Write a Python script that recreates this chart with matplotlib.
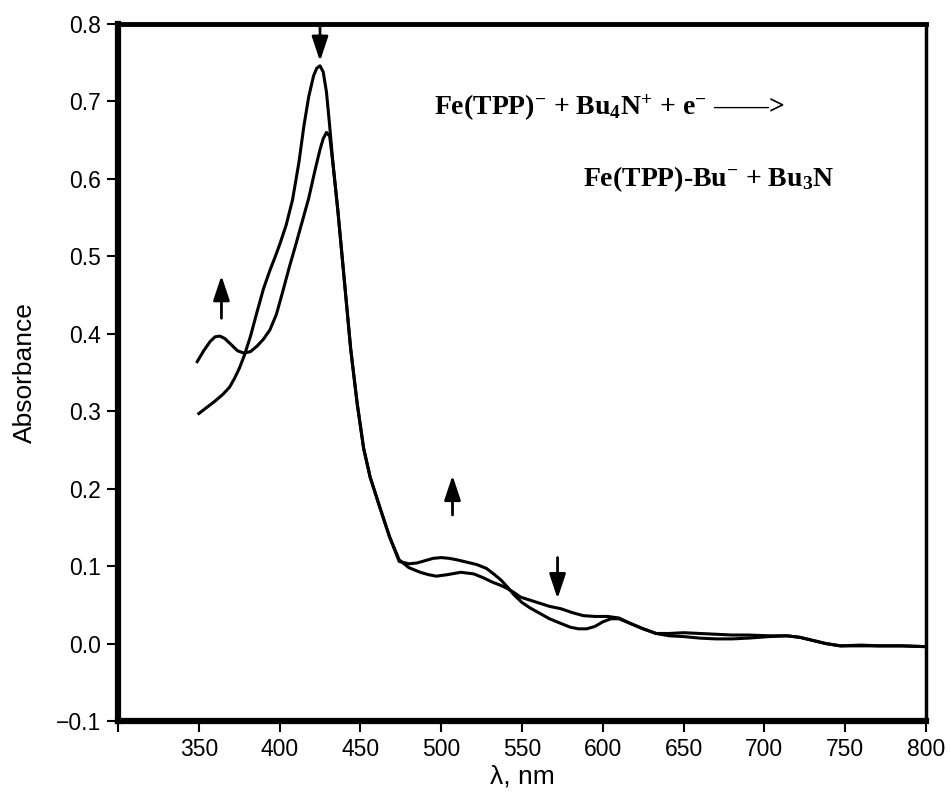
import numpy as np
import matplotlib.pyplot as plt

plt.rcParams['mathtext.fontset'] = 'custom'
plt.rcParams['mathtext.rm'] = 'Liberation Serif:bold'
plt.rcParams['mathtext.it'] = 'Liberation Serif:bold'
plt.rcParams['mathtext.bf'] = 'Liberation Serif:bold'

# spectrum before electrolysis (strong Soret band)
wl_before = [350, 355, 360, 365, 369, 372, 375, 378, 382, 386,
             390, 394, 397, 400, 404, 408, 412, 415, 418, 421,
             423, 425, 427, 429, 431, 433, 436, 440, 444, 448,
             452, 456, 462, 468, 474, 480, 487, 492, 497, 504,
             512, 520, 526, 532, 537, 541, 545, 549, 555, 561,
             567, 574, 581, 588, 595, 603, 610, 617, 625, 633,
             641, 650, 660, 670, 680, 690, 703, 714, 722, 730,
             738, 747, 760, 771, 785, 800]
abs_before = [0.297, 0.305, 0.313, 0.322, 0.331, 0.342, 0.355, 0.371, 0.397, 0.428,
              0.458, 0.482, 0.498, 0.515, 0.540, 0.573, 0.622, 0.668, 0.706, 0.733,
              0.743, 0.746, 0.738, 0.712, 0.668, 0.620, 0.560, 0.470, 0.380, 0.310,
              0.252, 0.215, 0.176, 0.138, 0.108, 0.098, 0.092, 0.089, 0.087, 0.089,
              0.092, 0.090, 0.085, 0.079, 0.075, 0.071, 0.066, 0.060, 0.056, 0.052,
              0.048, 0.045, 0.040, 0.036, 0.035, 0.035, 0.033, 0.026, 0.019, 0.013,
              0.013, 0.014, 0.013, 0.012, 0.011, 0.011, 0.010, 0.010, 0.008, 0.004,
              0.000, -0.003, -0.003, -0.003, -0.003, -0.004]

# spectrum after electrolysis (band at 360 nm grows)
wl_after = [349, 353, 357, 360, 363, 366, 370, 374, 378, 382,
            386, 390, 394, 398, 402, 406, 410, 414, 418, 422,
            425, 427, 429, 431, 433, 436, 440, 444, 448, 452,
            456, 462, 468, 474, 480, 485, 490, 495, 500, 505,
            510, 516, 522, 528, 533, 537, 541, 545, 550, 555,
            561, 567, 574, 580, 585, 590, 595, 600, 605, 610,
            617, 625, 633, 641, 650, 660, 670, 680, 690, 703,
            714, 722, 730, 738, 747, 760, 771, 785, 800]
abs_after = [0.364, 0.378, 0.390, 0.396, 0.397, 0.394, 0.386, 0.378, 0.375, 0.377,
             0.384, 0.393, 0.405, 0.425, 0.455, 0.486, 0.515, 0.545, 0.575, 0.612,
             0.638, 0.652, 0.660, 0.655, 0.620, 0.560, 0.470, 0.380, 0.310, 0.252,
             0.215, 0.176, 0.138, 0.106, 0.103, 0.104, 0.107, 0.110, 0.111, 0.110,
             0.108, 0.105, 0.102, 0.097, 0.089, 0.082, 0.073, 0.063, 0.053, 0.046,
             0.039, 0.032, 0.026, 0.021, 0.019, 0.019, 0.022, 0.028, 0.032, 0.032,
             0.026, 0.019, 0.013, 0.010, 0.009, 0.007, 0.006, 0.006, 0.007, 0.009,
             0.010, 0.008, 0.004, 0.000, -0.003, -0.002, -0.003, -0.003, -0.004]

# arrows showing the direction of change: wavelength, tail, head
arrow_wl = [425, 364, 507, 572]
arrow_tail = [0.800, 0.420, 0.166, 0.111]
arrow_head = [0.752, 0.475, 0.217, 0.058]

xticks = np.arange(300, 801, 50)
yticks = np.arange(-0.1, 0.81, 0.1)

fig = plt.figure(figsize=(9.51, 7.95), dpi=100)
ax = fig.add_axes([0.1241, 0.0931, 0.8496, 0.8767])

ax.plot(wl_before, abs_before, color='black', lw=2.2)
ax.plot(wl_after, abs_after, color='black', lw=2.2)

for x, y0, y1 in zip(arrow_wl, arrow_tail, arrow_head):
    ax.annotate('', xy=(x, y1), xytext=(x, y0),
                arrowprops=dict(arrowstyle='-|>,head_length=0.75,head_width=0.25',
                                mutation_scale=20, color='black', lw=2,
                                shrinkA=0, shrinkB=0))

# reaction scheme, placed in axes fractions
ax.text(0.391, 0.879, 'Fe(TPP)$^{-}$ + Bu$_{4}$N$^{+}$ + e$^{-}$ \u2014\u2014>',
        transform=ax.transAxes, fontsize=20, fontweight='bold',
        family='Liberation Serif', va='center')
ax.text(0.575, 0.778, 'Fe(TPP)-Bu$^{-}$ + Bu$_{3}$N',
        transform=ax.transAxes, fontsize=20, fontweight='bold',
        family='Liberation Serif', va='center')

ax.set_xlim(300, 800)
ax.set_ylim(-0.1, 0.8)
ax.set_xticks(xticks)
ax.set_xticklabels([''] + [str(v) for v in xticks[1:]])
ax.set_yticks(yticks)
ax.set_yticklabels([('%.1f' % (0.0 if abs(v) < 1e-9 else v)).replace('-', '\u2212')
                    for v in yticks])

for lab in ax.get_xticklabels() + ax.get_yticklabels():
    lab.set_family('Liberation Sans')
    lab.set_fontsize(16.5)

ax.tick_params(direction='out', length=8, width=1.5, pad=4)

ax.spines['left'].set_linewidth(4.5)
ax.spines['bottom'].set_linewidth(4.5)
ax.spines['top'].set_linewidth(3.5)
ax.spines['right'].set_linewidth(2.5)

ax.set_ylabel('Absorbance', fontsize=19, family='Liberation Sans')
ax.set_xlabel('\u03bb, nm', fontsize=19, family='Liberation Sans')
ax.yaxis.set_label_coords(-0.10, 0.5)
ax.xaxis.set_label_coords(0.5, -0.063)

fig.savefig('out.png', dpi=100)
